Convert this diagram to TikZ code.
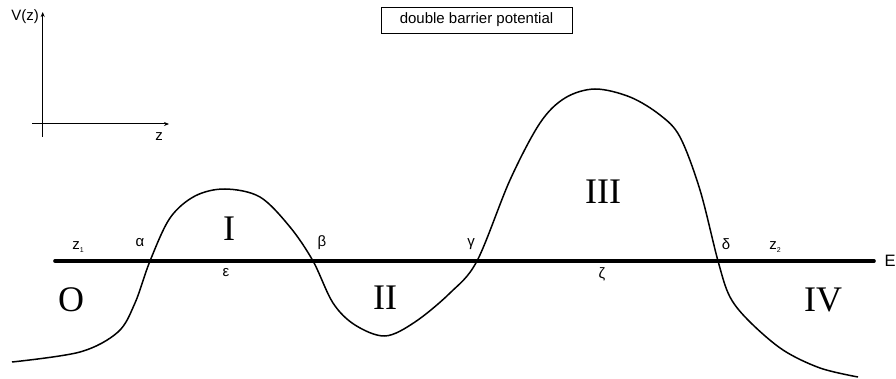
\documentclass[tikz,border=0pt]{standalone}
\usepackage{fontspec}
\setmainfont{Liberation Sans}
\newfontfamily\romanfont{Liberation Serif}
\usetikzlibrary{arrows.meta}
\newcommand{\lowsub}[1]{\raisebox{-3.5pt}{\fontsize{7}{7}\selectfont #1}}
\begin{document}
\begin{tikzpicture}[x=1pt,y=-1pt,
  lbl/.style={inner sep=0pt,font=\fontsize{15}{16}\selectfont},
  region/.style={inner sep=0pt,font=\romanfont\fontsize{36}{37}\selectfont},
  axisline/.style={line width=1pt,-{Stealth[length=5pt,width=4pt]}}]
\useasboundingbox (0,0) rectangle (896,379);
% axes
\coordinate (vb) at (42.7,137);
\coordinate (vt) at (42.7,12);
\coordinate (hl) at (32,124);
\coordinate (hr) at (169,124);
\draw[axisline] (vb) -- (vt);
\draw[axisline] (hl) -- (hr);
\node[lbl] (vz) at (25,17) {V(z)};
\node[lbl] (zax) at (159,137) {z};
% title box
\node[draw,line width=0.8pt,minimum width=191pt,minimum height=26pt,inner sep=0pt,
  font=\fontsize{15}{16}\selectfont] (title) at (476.5,20) {double barrier potential};
% energy line
\coordinate (el) at (55,261);
\coordinate (er) at (874,261);
\draw[line width=3.6pt,line cap=round] (el) -- (er);
\node[inner sep=0pt,font=\fontsize{16.5}{17}\selectfont] (E) at (890,261) {E};
% potential curve
\draw[line width=1.5pt,line join=round] plot[smooth,tension=0.55] coordinates {
 (12,362) (80,352) (118,332) (135,303) (150,261) (170,218) (195,196) (225,189)
 (260,197) (290,227) (313,261) (333,303) (355,325) (385,336) (415,322) (450,293)
 (477,261) (510,180) (540,123) (565,98) (595,89) (630,97) (660,115) (680,137)
 (700,190) (718,261) (730,297) (750,322) (783,350) (820,368) (858,377)};
% labels
\node[lbl] (z1) at (78,247) {z\lowsub{1}};
\node[lbl] (alpha) at (140,243) {α};
\node[lbl] (beta) at (322,243) {β};
\node[lbl] (gamma) at (471,244) {γ};
\node[lbl] (delta) at (726,244) {δ};
\node[lbl] (z2) at (775,247) {z\lowsub{2}};
\node[lbl] (eps) at (226,273) {ε};
\node[lbl] (zeta) at (602,274) {ζ};
\node[region] (rO) at (71,300) {O};
\node[region] (rI) at (229,229) {I};
\node[region] (rII) at (385,298) {II};
\node[region] (rIII) at (603,192) {III};
\node[region] (rIV) at (823,300) {IV};
\end{tikzpicture}
\end{document}
